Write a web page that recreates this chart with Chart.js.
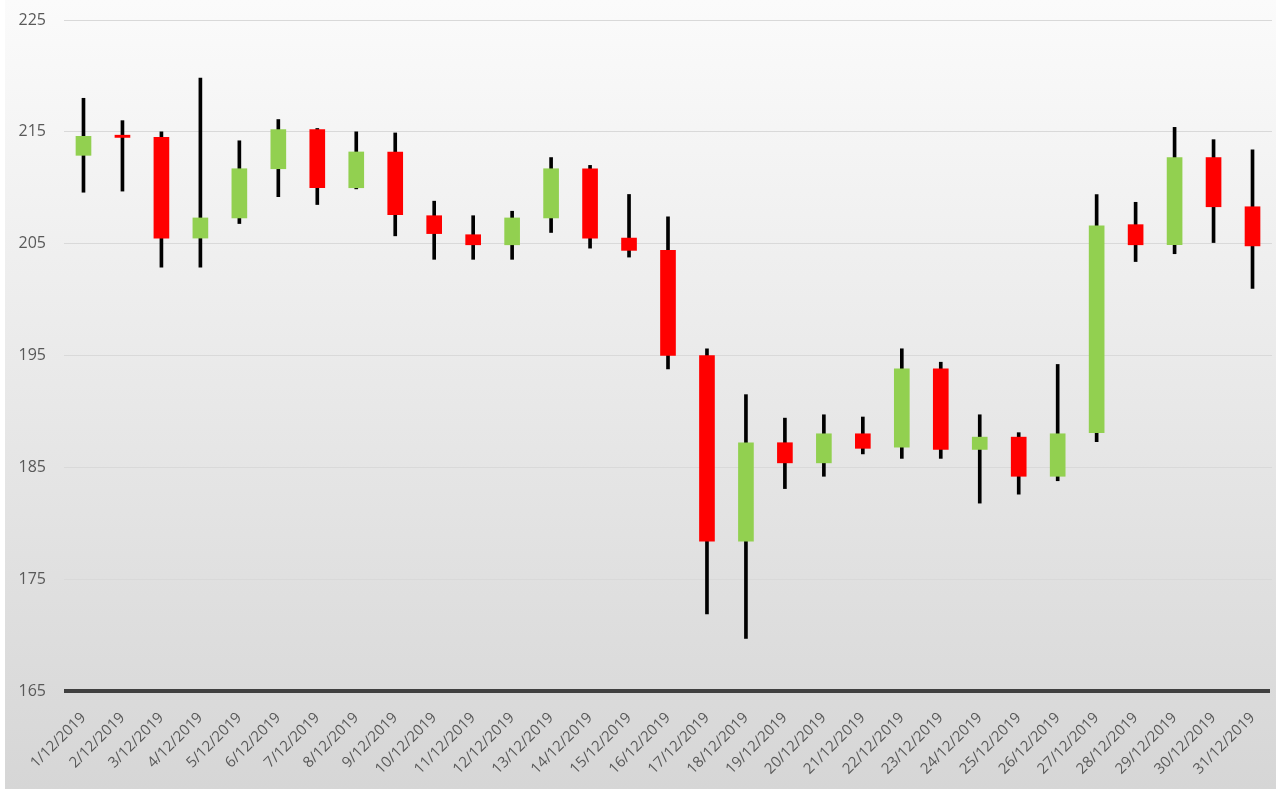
<!DOCTYPE html>
<html>
<head>
<meta charset="utf-8">
<script src="https://cdn.jsdelivr.net/npm/chart.js@4/dist/chart.umd.min.js"></script>
<style>
  html, body { margin: 0; padding: 0; background: #ffffff; }
  #wrap { width: 1276px; height: 789px; }
</style>
</head>
<body>
<div id="wrap"><canvas id="grafik" width="1276" height="789"></canvas></div>
<script>
// Gün etiketleri
const gunler = [
  "1/12/2019", "2/12/2019", "3/12/2019", "4/12/2019", "5/12/2019", "6/12/2019",
  "7/12/2019", "8/12/2019", "9/12/2019", "10/12/2019", "11/12/2019", "12/12/2019",
  "13/12/2019", "14/12/2019", "15/12/2019", "16/12/2019", "17/12/2019", "18/12/2019",
  "19/12/2019", "20/12/2019", "21/12/2019", "22/12/2019", "23/12/2019", "24/12/2019",
  "25/12/2019", "26/12/2019", "27/12/2019", "28/12/2019", "29/12/2019", "30/12/2019",
  "31/12/2019",
];

// Açılış, kapanış, en yüksek, en düşük
const acilis = [
  212.9, 214.7, 214.5, 205.5, 207.3, 211.7, 215.2, 210.0, 213.2, 207.5, 205.8,
  204.9, 207.3, 211.7, 205.5, 204.4, 195.0, 178.4, 187.2, 185.4, 188.0, 186.8,
  193.8, 186.6, 187.7, 184.2, 188.1, 206.7, 204.9, 212.7, 208.3,
];
const kapanis = [
  214.6, 214.5, 205.5, 207.3, 211.7, 215.2, 210.0, 213.2, 207.6, 205.9, 204.9,
  207.3, 211.7, 205.5, 204.4, 195.0, 178.4, 187.2, 185.4, 188.0, 186.7, 193.8,
  186.6, 187.7, 184.2, 188.0, 206.6, 204.9, 212.7, 208.3, 204.8,
];
const enYuksek = [
  218.0, 216.0, 215.0, 219.8, 214.2, 216.1, 215.3, 215.0, 214.9, 208.8, 207.5,
  207.9, 212.7, 212.0, 209.4, 207.4, 195.6, 191.5, 189.4, 189.7, 189.5, 195.6,
  194.4, 189.7, 188.1, 194.2, 209.4, 208.7, 215.4, 214.3, 213.4,
];
const enDusuk = [
  209.6, 209.7, 202.9, 202.9, 206.8, 209.2, 208.5, 209.9, 205.7, 203.6, 203.6,
  203.6, 206.0, 204.6, 203.8, 193.8, 171.9, 169.7, 183.1, 184.2, 186.2, 185.8,
  185.8, 181.8, 182.6, 183.8, 187.3, 203.4, 204.1, 205.1, 201.0,
];

const yesil = "#92d050";
const kirmizi = "#ff0000";

// Arka plan degrade + kalın yatay eksen çizgisi
const arkaPlan = {
  id: "arkaPlan",
  beforeDraw(chart) {
    const ctx = chart.ctx;
    ctx.save();
    ctx.fillStyle = "#ffffff";
    ctx.fillRect(0, 0, chart.width, chart.height);
    const g = ctx.createLinearGradient(0, 0, 0, chart.height);
    g.addColorStop(0, "#fbfbfb");
    g.addColorStop(1, "#d6d6d6");
    ctx.fillStyle = g;
    ctx.fillRect(5, 0, chart.width - 5, chart.height);
    ctx.restore();
  },
  afterDatasetsDraw(chart) {
    const { ctx, chartArea } = chart;
    ctx.save();
    ctx.strokeStyle = "#404040";
    ctx.lineWidth = 4;
    ctx.beginPath();
    ctx.moveTo(chartArea.left, chartArea.bottom);
    ctx.lineTo(chartArea.right - 2, chartArea.bottom);
    ctx.stroke();
    ctx.restore();
  },
};

const govde = gunler.map((_, i) => [acilis[i], kapanis[i]]);
const fitil = gunler.map((_, i) => [enDusuk[i], enYuksek[i]]);
const renkler = gunler.map((_, i) => (kapanis[i] >= acilis[i] ? yesil : kirmizi));

const yaziRengi = "#595959";
const yazi = "'Open Sans', 'Liberation Sans', sans-serif";

new Chart(document.getElementById("grafik"), {
  type: "bar",
  data: {
    labels: gunler,
    datasets: [
      {
        label: "Gövde",
        data: govde,
        backgroundColor: renkler,
        borderWidth: 0,
        barThickness: 15,
        grouped: false,
        minBarLength: 2,
      },
      {
        label: "Fitil",
        data: fitil,
        backgroundColor: "#000000",
        borderWidth: 0,
        barThickness: 3,
        grouped: false,
      },
    ],
  },
  options: {
    responsive: false,
    animation: false,
    layout: { padding: { top: 20, right: 4, left: 0, bottom: 0 } },
    plugins: {
      legend: { display: false },
      tooltip: { enabled: false },
    },
    scales: {
      x: {
        afterFit: (s) => {
          s.height = 98;
          s.paddingLeft = 0;
          s.paddingRight = 0;
        },
        grid: { display: false },
        border: { display: false },
        ticks: {
          autoSkip: false,
          maxRotation: 45,
          minRotation: 45,
          color: yaziRengi,
          padding: 10,
          font: { family: yazi, size: 15 },
        },
      },
      y: {
        min: 165,
        max: 225,
        afterFit: (s) => {
          s.width = 64;
          s.paddingTop = 0;
          s.paddingBottom = 0;
        },
        grid: { color: "#d9d9d9", lineWidth: 1, drawTicks: false },
        border: { display: false },
        ticks: {
          stepSize: 10,
          color: yaziRengi,
          padding: 18,
          font: { family: yazi, size: 16 },
        },
      },
    },
  },
  plugins: [arkaPlan],
});
</script>
</body>
</html>
